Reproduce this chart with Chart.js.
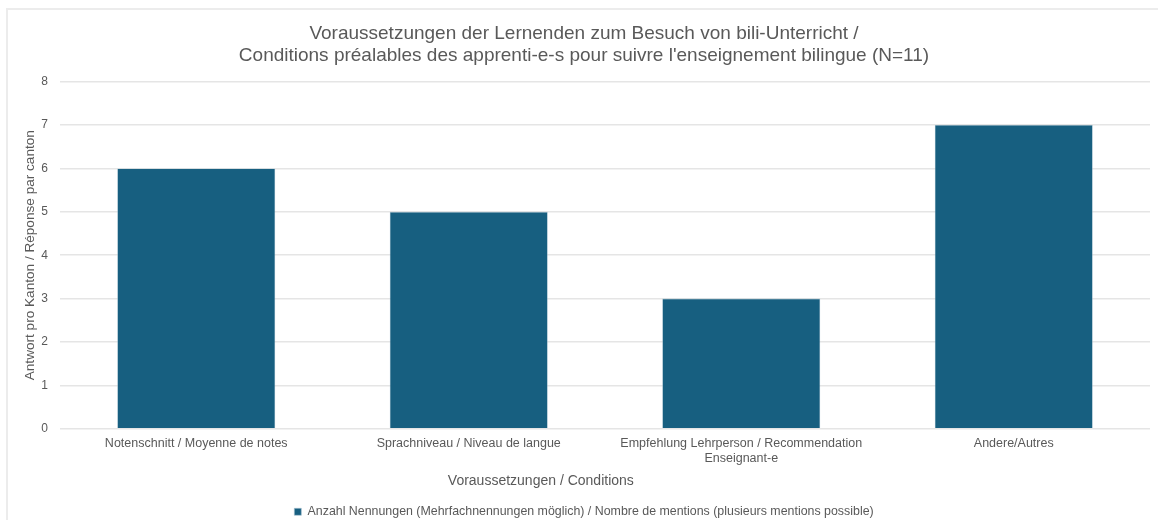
<!DOCTYPE html>
<html>
<head>
<meta charset="utf-8">
<script src="https://cdn.jsdelivr.net/npm/chart.js@4"></script>
<style>
  html, body { margin: 0; padding: 0; background: #fff; overflow: hidden; }
  #frame { position: absolute; left: 6px; top: 8px; width: 1160px; height: 530px; border: 2px solid #ececec; box-sizing: border-box; }
  #wrap { position: absolute; left: 0; top: 0; width: 1158px; height: 528px; }
</style>
</head>
<body>
<div id="frame"></div>
<div id="wrap"><canvas id="chart"></canvas></div>
<script>
// Kategorien und Werte
var categories = [
  'Notenschnitt / Moyenne de notes',
  'Sprachniveau / Niveau de langue',
  ['Empfehlung Lehrperson / Recommendation', 'Enseignant-e'],
  'Andere/Autres'
];
var mentions = [6, 5, 3, 7];
var seriesLabel = 'Anzahl Nennungen (Mehrfachnennungen möglich) / Nombre de mentions (plusieurs mentions possible)';
var titleLines = [
  'Voraussetzungen der Lernenden zum Besuch von bili-Unterricht /',
  'Conditions préalables des apprenti-e-s pour suivre l\'enseignement bilingue (N=11)'
];
var xTitle = 'Voraussetzungen / Conditions';

Chart.defaults.font.family = '"Liberation Sans", Arial, sans-serif';
Chart.defaults.color = '#595959';

var ctx = document.getElementById('chart').getContext('2d');
new Chart(ctx, {
  type: 'bar',
  data: {
    labels: categories,
    datasets: [{
      label: seriesLabel,
      data: mentions,
      backgroundColor: '#175f80',
      borderColor: '#a9c3d0',
      borderWidth: 0.6,
      categoryPercentage: 1,
      barPercentage: 0.58
    }]
  },
  options: {
    responsive: true,
    maintainAspectRatio: false,
    animation: false,
    layout: { autoPadding: false, padding: { left: 18, right: 8, top: 8, bottom: 0 } },
    plugins: {
      title: {
        display: true,
        text: titleLines,
        font: { size: 19, weight: 'normal' },
        lineHeight: 1.25,
        padding: { top: 14, bottom: 14 }
      },
      legend: {
        position: 'bottom',
        labels: { boxWidth: 7, boxHeight: 7, font: { size: 12.4 }, padding: 2 }
      },
      tooltip: { enabled: false }
    },
    scales: {
      x: {
        grid: { display: false },
        border: { display: false },
        ticks: { font: { size: 12.5 }, maxRotation: 0, padding: -1 },
        // Titel steht im Original etwas links der Mitte
        title: { display: true, text: xTitle + ' '.repeat(33), font: { size: 14 }, padding: { top: 8, bottom: 14 } }
      },
      y: {
        min: 0,
        max: 8,
        ticks: { stepSize: 1, font: { size: 12 }, padding: 12 },
        grid: { color: '#e5e5e5', lineWidth: 1.5, drawTicks: false },
        border: { display: false },
        title: { display: true, text: 'Antwort pro Kanton / Réponse par canton', font: { size: 13.6 }, padding: { top: 4, bottom: -9 } }
      }
    }
  }
});
</script>
</body>
</html>
